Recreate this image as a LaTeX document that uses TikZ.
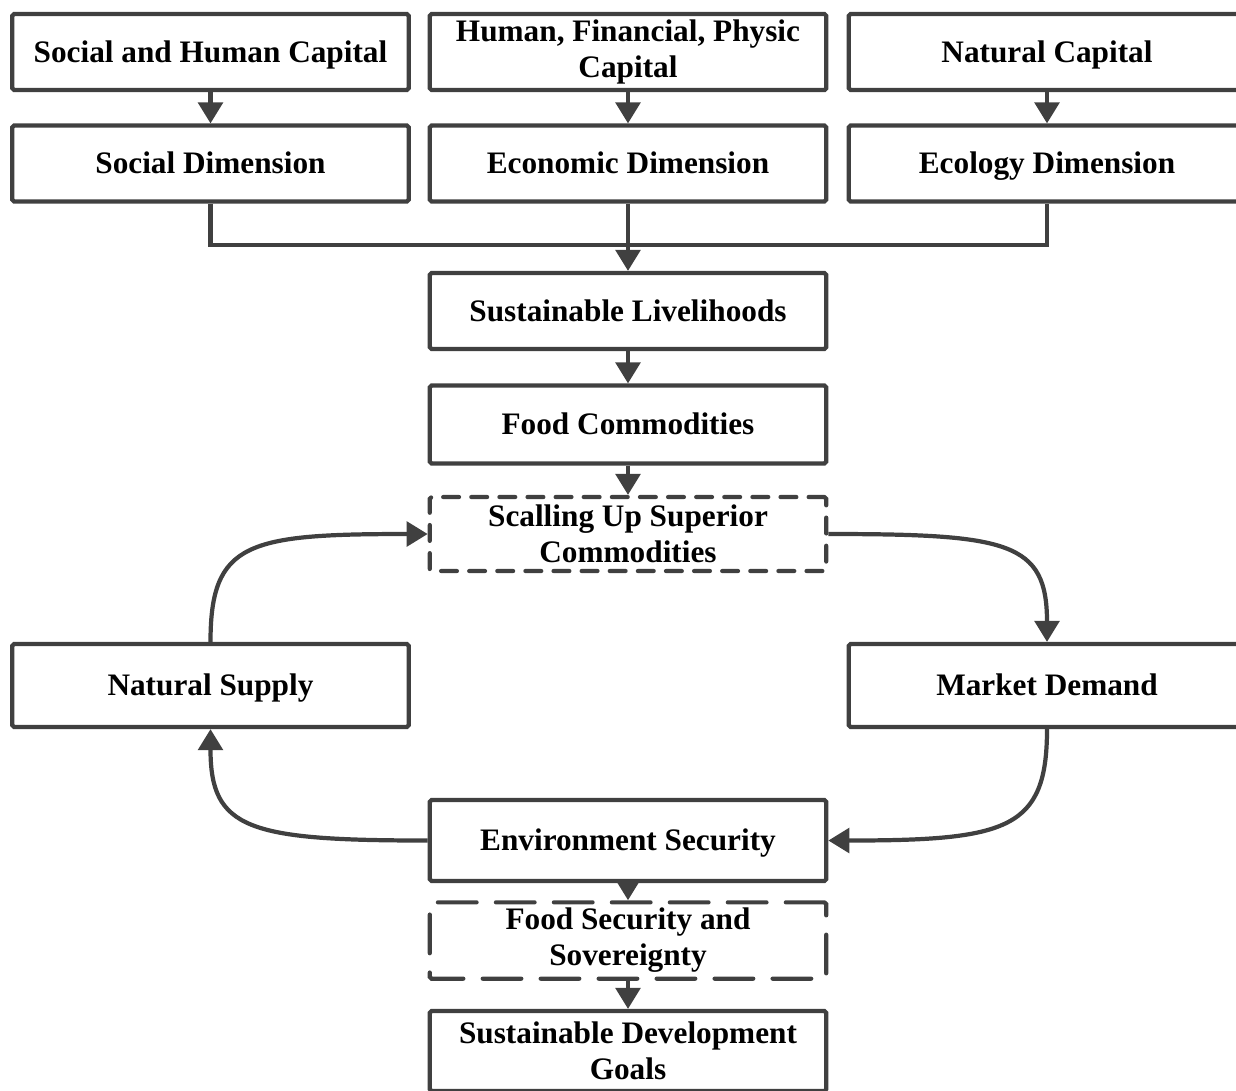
\documentclass[tikz,border=0pt]{standalone}
\usepackage{fontspec}
\setmainfont{Liberation Serif}
\usepackage{xcolor}
\usetikzlibrary{arrows.meta}
\definecolor{linegray}{HTML}{404040}

\begin{document}
\begin{tikzpicture}[x=0.02cm,y=-0.02cm,line width=2.4pt]
    \tikzstyle{mbox}=[rectangle,draw=linegray,line width=2.4pt,rounded corners=1pt,
        minimum width=7.93cm,minimum height=1.52cm,align=center,
        font=\fontsize{17.8}{20.5}\selectfont\bfseries]
    \tikzstyle{box}=[mbox,text height=13pt,text depth=1.5pt]
    \tikzstyle{arr}=[draw=linegray,-{Triangle[length=12pt,width=14pt]}]
    \useasboundingbox (0,0) rectangle (1236,1090);

    \node[box] (cap1) at (210.5,52) {Social and Human Capital};
    \node[mbox] (cap2) at (628,52) {Human, Financial, Physic\\Capital};
    \node[box] (cap3) at (1047,52) {Natural Capital};

    \node[box] (dim1) at (210.5,163.5) {Social Dimension};
    \node[box] (dim2) at (628,163.5) {Economic Dimension};
    \node[box] (dim3) at (1047,163.5) {Ecology Dimension};

    \node[box] (sl) at (628,311) {Sustainable Livelihoods};
    \node[box,minimum height=1.56cm] (fc) at (628,424.5) {Food Commodities};
    \node[mbox,minimum height=1.48cm,dash pattern=on 9pt off 7pt,line cap=round] (sup) at (628,534) {Scalling Up Superior\\Commodities};

    \node[box,minimum height=1.66cm] (ns) at (210.5,685.5) {Natural Supply};
    \node[box,minimum height=1.66cm] (md) at (1047,685.5) {Market Demand};

    \node[box,minimum height=1.62cm] (es) at (628,840.5) {Environment Security};
    \node[mbox,dash pattern=on 22pt off 11pt,line cap=round] (fss) at (628,940.5) {Food Security and\\Sovereignty};
    \node[mbox,minimum height=1.6cm] (sdg) at (628,1051) {Sustainable Development\\Goals};

    \foreach \a/\b in {cap1/dim1,cap2/dim2,cap3/dim3,sl/fc,fc/sup,es/fss,fss/sdg} {
        \draw[arr] (\a.south) -- (\b.north);
    };

    % merge of the three dimensions
    \coordinate (junc) at (628,245);
    \draw[draw=linegray] (dim1.south) |- (junc) -| (dim3.south);
    \draw[arr] (dim2.south) -- (sl.north);

    % cycle
    \draw[arr] (ns.north) .. controls +(0,-100) and +(-180,0) .. (sup.west);
    \draw[arr] (sup.east) .. controls +(180,0) and +(0,-100) .. (md.north);
    \draw[arr] (md.south) .. controls +(0,100) and +(180,0) .. (es.east);
    \draw[arr] (es.west) .. controls +(-180,0) and +(0,100) .. (ns.south);
\end{tikzpicture}
\end{document}
